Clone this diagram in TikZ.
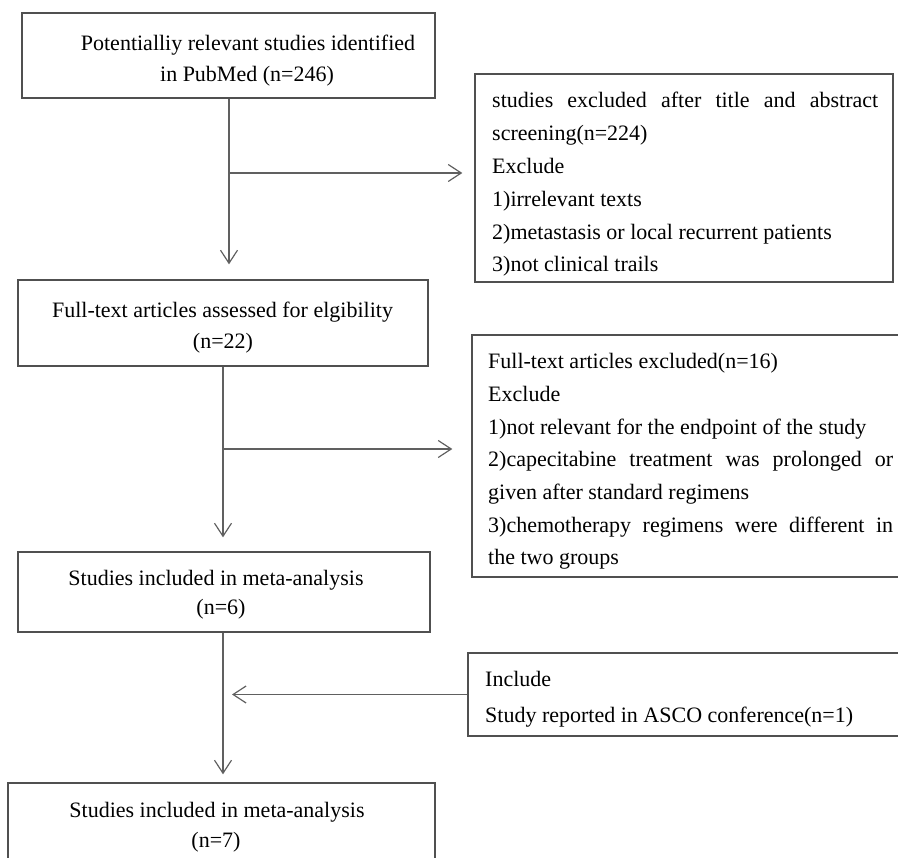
\documentclass[tikz,border=0pt]{standalone}
\usepackage{fontspec}
\setmainfont{Liberation Serif}
\usetikzlibrary{arrows.meta}
\definecolor{boxcol}{HTML}{505050}
\definecolor{arrcol}{HTML}{606060}
\begin{document}
\begin{tikzpicture}[x=1pt,y=-1pt,
  boxnode/.style={draw=boxcol, line width=1.4pt, inner sep=0pt, rectangle},
  arr/.style={draw=arrcol, line width=1.2pt, -{Straight Barb[length=13pt,width=17pt,line width=1.2pt]}},
  conn/.style={draw=arrcol, line width=1.2pt},
  txtc/.style={anchor=base, inner sep=0pt, font=\fontsize{22}{26}\selectfont},
  txtl/.style={anchor=base west, inner sep=0pt, font=\fontsize{22}{26}\selectfont}]
\useasboundingbox (0,0) rectangle (898,858);
% boxes
\node[boxnode, minimum width=413pt, minimum height=85pt] (b1) at (228.5,55.5) {};
\node[boxnode, minimum width=418pt, minimum height=208pt] (b2) at (684,178) {};
\node[boxnode, minimum width=410pt, minimum height=86pt] (b3) at (223,323) {};
\node[boxnode, minimum width=448pt, minimum height=242pt] (b4) at (696,456) {};
\node[boxnode, minimum width=412pt, minimum height=80pt] (b5) at (224,592) {};
\node[boxnode, minimum width=452pt, minimum height=83pt] (b6) at (694,694.5) {};
\node[boxnode, minimum width=427pt, minimum height=97pt] (b7) at (221.5,831.5) {};
% texts box 1
\node[txtc] (t1a) at (248,51) {Potentialliy relevant studies identified};
\node[txtc] (t1b) at (247,82) {in PubMed (n=246)};
% box 2
\node[txtl] (t2a) at (492,108) {\makebox[386pt][s]{studies excluded after title and abstract}};
\node[txtl] (t2b) at (492,140.8) {screening(n=224)};
\node[txtl] (t2c) at (492,173.6) {Exclude};
\node[txtl] (t2d) at (492,206.4) {1)irrelevant texts};
\node[txtl] (t2e) at (492,239.2) {2)metastasis or local recurrent patients};
\node[txtl] (t2f) at (492,272) {3)not clinical trails};
% box 3
\node[txtc] (t3a) at (222.5,318) {Full-text articles assessed for elgibility};
\node[txtc] (t3b) at (223,349) {(n=22)};
% box 4
\node[txtl] (t4a) at (488,369) {Full-text articles excluded(n=16)};
\node[txtl] (t4b) at (488,401.7) {Exclude};
\node[txtl] (t4c) at (488,434.3) {1)not relevant for the endpoint of the study};
\node[txtl] (t4d) at (488,467) {\makebox[405pt][s]{2)capecitabine treatment was prolonged or}};
\node[txtl] (t4e) at (488,499.7) {given after standard regimens};
\node[txtl] (t4f) at (488,532.3) {\makebox[405pt][s]{3)chemotherapy regimens were different in}};
\node[txtl] (t4g) at (488,565) {the two groups};
% box 5
\node[txtc] (t5a) at (216,586) {Studies included in meta-analysis};
\node[txtc] (t5b) at (221,615) {(n=6)};
% box 6
\node[txtl] (t6a) at (485,687) {Include};
\node[txtl] (t6b) at (485,722) {Study reported in ASCO conference(n=1)};
% box 7
\node[txtc] (t7a) at (217,817) {Studies included in meta-analysis};
\node[txtc] (t7b) at (216,847) {(n=7)};
% connectors
\coordinate (s1) at ([xshift=0.5pt]b1.south);
\coordinate (j1) at (229,173);
\coordinate (j2) at (223,449);
\draw[arr, shorten >=15pt] (s1) -- (s1 |- b3.north);
\draw[arr, shorten >=12pt] (j1) -- (j1 -| b2.west);
\draw[arr, shorten >=14pt] (b3.south) -- (b3.south |- b5.north);
\draw[arr, shorten >=19pt] (j2) -- (j2 -| b4.west);
\draw[arr, shorten >=8pt] (b5.south -| b3.south) -- (b3.south |- b7.north);
\draw[arr, shorten >=9pt] (b6.west) -- (b6.west -| b3.south);
\end{tikzpicture}
\end{document}
